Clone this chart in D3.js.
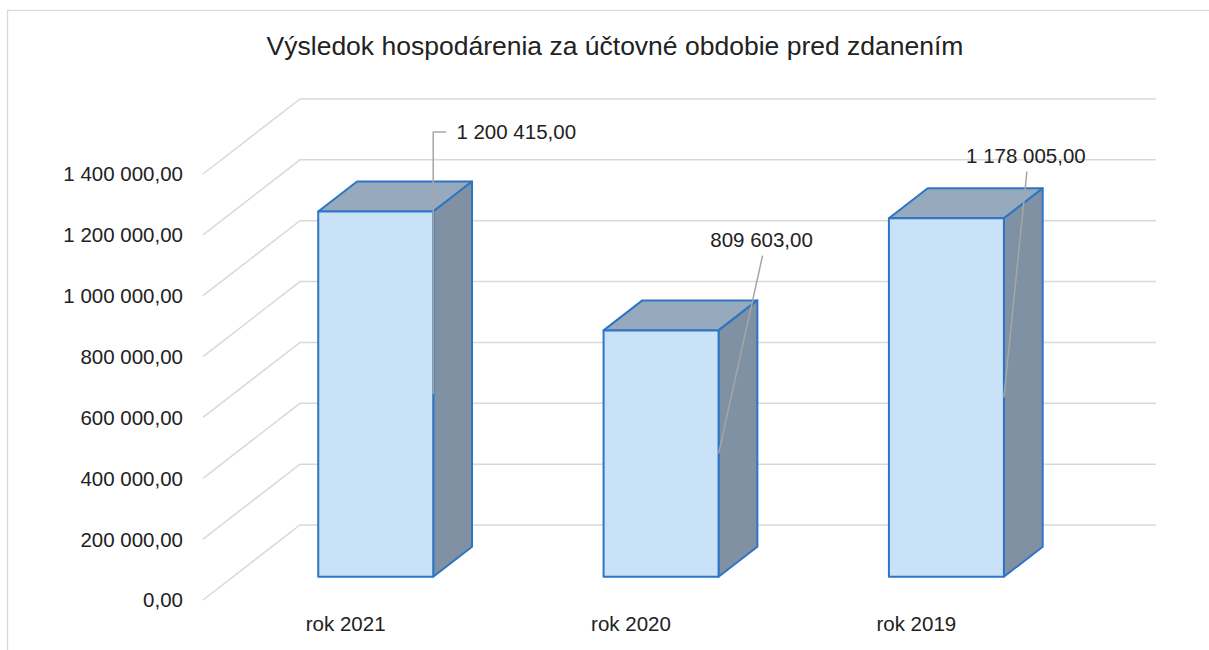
<!DOCTYPE html>
<html>
<head>
<meta charset="utf-8">
<script src="https://cdn.jsdelivr.net/npm/d3@7"></script>
<style>
  body { margin: 0; background: #fff; }
  svg { display: block; font-family: "Liberation Sans", Arial, sans-serif; }
</style>
</head>
<body>
<script>
// data
const categories = ["rok 2021", "rok 2020", "rok 2019"];
const values = [1200415, 809603, 1178005];
const valueLabels = ["1 200 415,00", "809 603,00", "1 178 005,00"];
const tickValues = [0, 200000, 400000, 600000, 800000, 1000000, 1200000, 1400000];
const tickLabels = ["0,00", "200 000,00", "400 000,00", "600 000,00", "800 000,00",
                    "1 000 000,00", "1 200 000,00", "1 400 000,00"];
// where the data labels were dragged to (offset from the bar anchor)
const labelOffsets = [[83, -262], [43, -214], [22, -242]];

const W = 1209, H = 650;
const svg = d3.select("body").append("svg")
    .attr("width", W)
    .attr("height", H);

// chart border
svg.append("rect")
    .attr("x", 7.5).attr("y", 10.5)
    .attr("width", W + 10).attr("height", H + 10)
    .attr("fill", "none")
    .attr("stroke", "#d9d9d9")
    .attr("stroke-width", 1.3);

// title
svg.append("text")
    .attr("x", 615).attr("y", 55)
    .attr("text-anchor", "middle")
    .attr("font-size", "26.5px")
    .attr("fill", "#222")
    .text("Výsledok hospodárenia za účtovné obdobie pred zdanením");

// front plane scales + oblique depth vector
const x = d3.scaleBand()
    .domain(categories)
    .range([203, 1059])
    .paddingInner(0.597)
    .paddingOuter(0.2985);
const y = d3.scaleLinear()
    .domain([0, 1400000])
    .range([600, 174]);
const depth = {dx: 97, dy: -75};
const d0 = 0.31, d1 = 0.71;   // bar front / back in depth
const P = (px, py, d) => [px + d * depth.dx, py + d * depth.dy];

// gridlines: diagonal on the floor side + horizontal on back wall
const grid = svg.append("g")
    .attr("stroke", "#d9d9d9")
    .attr("stroke-width", 1.5)
    .attr("fill", "none");
grid.selectAll("path")
    .data(tickValues)
    .enter()
    .append("path")
    .attr("d", function (t) {
        const a = [203, y(t)];
        const b = P(203, y(t), 1);
        const c = P(x.range()[1], y(t), 1);
        return d3.line()([a, b, c]);
    });

// axis labels
svg.append("g").selectAll("text")
    .data(tickValues)
    .enter()
    .append("text")
    .attr("x", 183)
    .attr("y", function (t) { return y(t); })
    .attr("dy", "0.36em")
    .attr("text-anchor", "end")
    .attr("font-size", "20.5px")
    .attr("fill", "#222")
    .text(function (t, i) { return tickLabels[i]; });

// category labels
svg.append("g").selectAll("text")
    .data(categories)
    .enter()
    .append("text")
    .attr("x", function (c) { return x(c) + x.bandwidth() / 2; })
    .attr("y", 624)
    .attr("dy", "0.36em")
    .attr("text-anchor", "middle")
    .attr("font-size", "20.5px")
    .attr("fill", "#222")
    .text(function (c) { return c; });

// 3D bars
const bars = svg.append("g")
    .selectAll("g")
    .data(values)
    .enter()
    .append("g")
    .attr("stroke", "#2e75c6")
    .attr("stroke-width", 2)
    .attr("stroke-linejoin", "round");

function face(pts) { return d3.line()(pts) + "Z"; }

bars.append("path")   // top
    .attr("fill", "#97aabd")
    .attr("d", function (v, i) {
        const xl = x(categories[i]), xr = xl + x.bandwidth(), yt = y(v);
        return face([P(xl, yt, d0), P(xr, yt, d0), P(xr, yt, d1), P(xl, yt, d1)]);
    });
bars.append("path")   // side
    .attr("fill", "#7f91a2")
    .attr("d", function (v, i) {
        const xr = x(categories[i]) + x.bandwidth(), yt = y(v), yb = y(0);
        return face([P(xr, yt, d0), P(xr, yt, d1), P(xr, yb, d1), P(xr, yb, d0)]);
    });
bars.append("path")   // front
    .attr("fill", "#c9e2f8")
    .attr("d", function (v, i) {
        const xl = x(categories[i]), xr = xl + x.bandwidth(), yt = y(v), yb = y(0);
        return face([P(xl, yt, d0), P(xr, yt, d0), P(xr, yb, d0), P(xl, yb, d0)]);
    });

// data labels with leader lines
function anchor(v, i) {
    const xr = x(categories[i]) + x.bandwidth();
    return P(xr, (y(v) + y(0)) / 2, d0);
}
const labels = svg.append("g");
labels.selectAll("path")
    .data(values)
    .enter()
    .append("path")
    .attr("fill", "none")
    .attr("stroke", "#a6a6a6")
    .attr("stroke-width", 1.5)
    .attr("d", function (v, i) {
        const a = anchor(v, i);
        const o = labelOffsets[i];
        const tx = a[0] + o[0], ty = a[1] + o[1];
        if (i === 0) {
            // elbow leader to the left side of the label
            return d3.line()([a, [a[0], ty], [tx - 70, ty]]);
        }
        return d3.line()([a, [tx + 1, ty + 16]]);
    });
labels.selectAll("text")
    .data(values)
    .enter()
    .append("text")
    .attr("x", function (v, i) { return anchor(v, i)[0] + labelOffsets[i][0]; })
    .attr("y", function (v, i) { return anchor(v, i)[1] + labelOffsets[i][1]; })
    .attr("dy", "0.36em")
    .attr("text-anchor", "middle")
    .attr("font-size", "20.5px")
    .attr("fill", "#222")
    .text(function (v, i) { return valueLabels[i]; });
</script>
</body>
</html>
